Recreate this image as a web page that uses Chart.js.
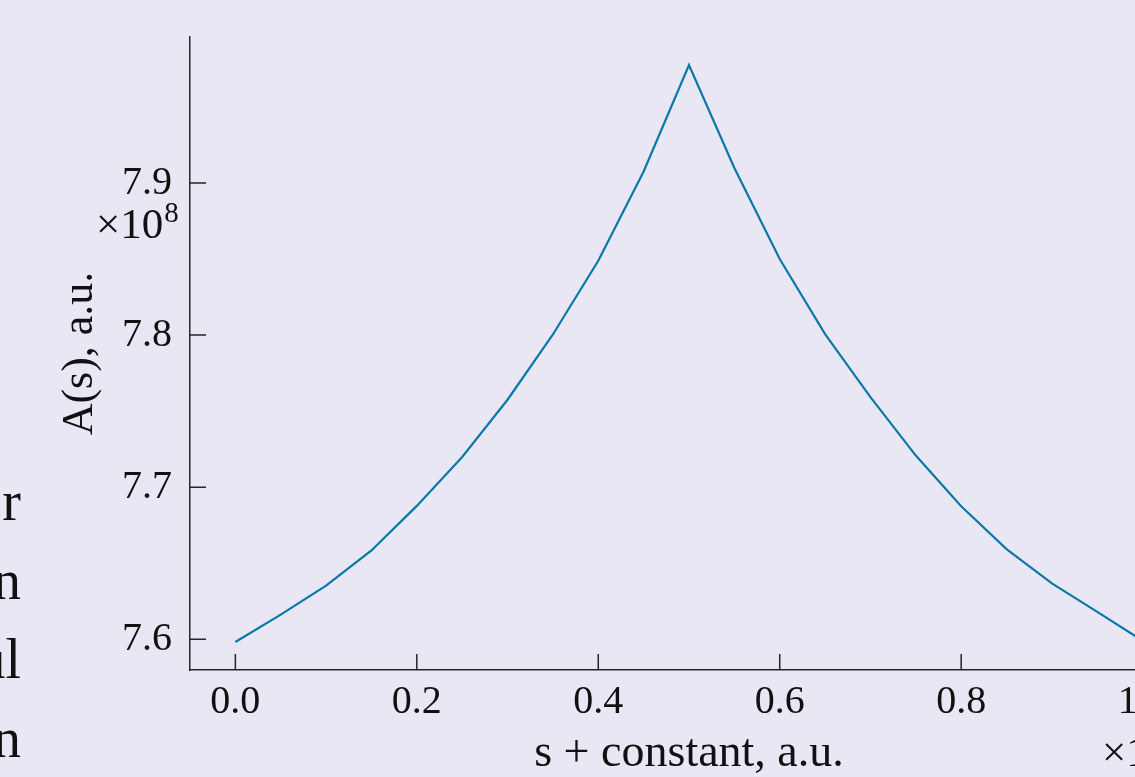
<!DOCTYPE html>
<html>
<head>
<meta charset="utf-8">
<title>A(s)</title>
<script src="https://cdn.jsdelivr.net/npm/chart.js@4.4.0/dist/chart.umd.min.js"></script>
<style>
  html, body { margin: 0; padding: 0; width: 1135px; height: 777px; overflow: hidden; background: #e9e7f3; }
  #wrap { position: absolute; left: 0; top: 0; width: 1240px; height: 777px; }
  #side {
    position: absolute; left: -302px; top: 462px; width: 323px;
    text-align: right; white-space: pre; color: #111;
    font-family: "Liberation Serif", serif; font-size: 56px; line-height: 79px;
  }
</style>
</head>
<body>
<div id="side">r
n
ul
n</div>
<div id="wrap"><canvas id="myChart" width="1240" height="777"></canvas></div>
<script>
// s + constant (a.u.) and A(s) in units of 1e8
var sValues = [0.00, 0.05, 0.10, 0.15, 0.20, 0.25, 0.30, 0.35, 0.40, 0.45, 0.50,
               0.55, 0.60, 0.65, 0.70, 0.75, 0.80, 0.85, 0.90, 0.95, 1.00];
var aValues = [7.5982, 7.6162, 7.6353, 7.6584, 7.6877, 7.7199, 7.7575, 7.8004, 7.8489, 7.9076, 7.9776,
               7.9099, 7.8500, 7.8007, 7.7592, 7.7208, 7.6874, 7.6593, 7.6368, 7.6180, 7.5990];
var xTicks = [0.0, 0.2, 0.4, 0.6, 0.8, 1.0];
var yTicks = [7.6, 7.7, 7.8, 7.9];

var lineColor = '#0a78a9';
var axisColor = '#262626';
var textColor = '#111111';
var serif = '"Liberation Serif", serif';

// matplotlib style ticks pointing into the plot, plus the offset labels
var innerTicks = {
    id: 'innerTicks',
    afterDraw: function (chart) {
        var ctx = chart.ctx;
        var area = chart.chartArea;
        var xs = chart.scales.x, ys = chart.scales.y;
        ctx.save();
        ctx.strokeStyle = axisColor;
        ctx.lineWidth = 1.5;
        ctx.beginPath();
        xs.ticks.forEach(function (t) {
            var px = xs.getPixelForValue(t.value);
            ctx.moveTo(px, area.bottom);
            ctx.lineTo(px, area.bottom - 16);
        });
        ys.ticks.forEach(function (t) {
            var py = ys.getPixelForValue(t.value);
            ctx.moveTo(area.left, py);
            ctx.lineTo(area.left + 16, py);
        });
        ctx.stroke();

        ctx.fillStyle = textColor;
        ctx.textAlign = 'left';
        ctx.textBaseline = 'alphabetic';
        ctx.font = '43px ' + serif;
        var w = ctx.measureText('\u00d710').width;
        ctx.fillText('\u00d710', 96, 238);
        ctx.fillText('\u00d710', 1102, 766);
        ctx.font = '29px ' + serif;
        ctx.fillText('8', 96 + w + 1, 222);
        ctx.restore();
    }
};

var points = sValues.map(function (s, i) { return { x: s, y: aValues[i] }; });

new Chart(document.getElementById('myChart'), {
    type: 'scatter',
    data: {
        datasets: [{
            data: points,
            showLine: true,
            borderColor: lineColor,
            borderWidth: 2.2,
            pointRadius: 0,
            fill: false
        }]
    },
    options: {
        responsive: false,
        animation: false,
        layout: { padding: { top: 37, right: 52, bottom: 0, left: 0 } },
        plugins: { legend: { display: false }, tooltip: { enabled: false } },
        scales: {
            x: {
                type: 'linear',
                min: -0.05,
                max: 1.05,
                afterBuildTicks: function (scale) {
                    scale.ticks = xTicks.map(function (v) { return { value: v }; });
                },
                afterFit: function (scale) {
                    scale.height = 107;
                    scale.paddingLeft = 0;
                    scale.paddingRight = 0;
                },
                grid: { display: false, drawTicks: false, tickLength: 0 },
                border: { display: true, color: axisColor, width: 1.5 },
                ticks: {
                    color: textColor,
                    font: { family: serif, size: 40 },
                    padding: 8,
                    maxRotation: 0,
                    callback: function (v) { return Number(v).toFixed(1); }
                },
                title: {
                    display: true,
                    text: 's + constant, a.u.',
                    color: textColor,
                    font: { family: serif, size: 46, lineHeight: 1.0 },
                    padding: { top: 0, bottom: 0 }
                }
            },
            y: {
                type: 'linear',
                min: 7.5798,
                max: 7.996,
                afterBuildTicks: function (scale) {
                    scale.ticks = yTicks.map(function (v) { return { value: v }; });
                },
                afterFit: function (scale) {
                    scale.width = 190;
                    scale.paddingTop = 0;
                    scale.paddingBottom = 0;
                },
                grid: { display: false, drawTicks: false, tickLength: 0 },
                border: { display: true, color: axisColor, width: 1.5 },
                ticks: {
                    color: textColor,
                    font: { family: serif, size: 40 },
                    padding: 18,
                    callback: function (v) { return Number(v).toFixed(1); }
                },
                title: {
                    display: true,
                    text: 'A(s), a.u.',
                    color: textColor,
                    font: { family: serif, size: 44 },
                    padding: { top: 54, bottom: 0 }
                }
            }
        }
    },
    plugins: [innerTicks]
});
</script>
</body>
</html>
